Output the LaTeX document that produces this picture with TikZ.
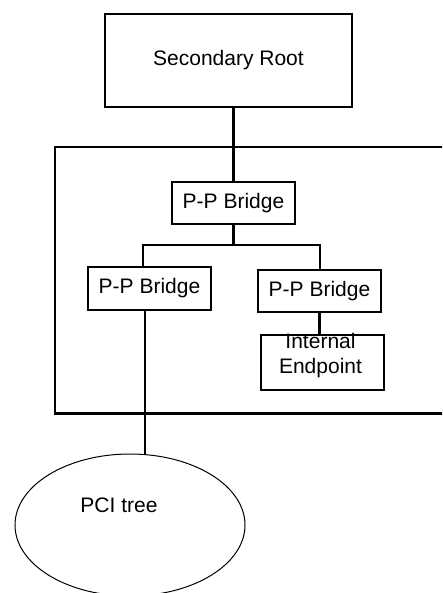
\documentclass[tikz,border=0pt]{standalone}
\usepackage{fontspec}
\setmainfont{Liberation Sans}
\usetikzlibrary{shapes.geometric}

\begin{document}
\begin{tikzpicture}[x=1pt,y=-1pt,line width=2.2pt,
                    font=\fontsize{21}{25}\selectfont]
  \tikzstyle{box}=[draw,rectangle,inner sep=0pt,minimum width=123pt]
  \useasboundingbox (0,0) rectangle (442,593);
  \clip (0,0) rectangle (442,593);

  % switch frame, open to the right
  \draw (460,147) -- (55,147) -- (55,413.5) -- (460,413.5);

  \node[box,minimum width=247pt,minimum height=93pt] (root) at (228.5,60.5) {Secondary Root};
  \node[box,minimum height=42pt] (br0) at (233.5,203)   {P-P Bridge};
  \node[box,minimum height=43pt] (br1) at (149.5,288.5) {P-P Bridge};
  \node[box,minimum height=42pt] (br2) at (319.5,291)   {P-P Bridge};
  \node[box,minimum height=55pt,
        label={[align=center,xshift=-2pt,yshift=7pt]center:Internal\\Endpoint}] (ep) at (322.5,362.5) {};
  \node[draw,ellipse,line width=1pt,minimum width=230pt,minimum height=142pt,
        label={[xshift=-11pt,yshift=20pt]center:PCI tree}] (pci) at (130,525) {};

  \coordinate (busL)   at (143,245);
  \coordinate (busR)   at (320,245);
  \coordinate (pcitop) at (145,454.5);

  \draw (br0.north) -- (br0.north |- root.south);
  \draw (br0.south) -- (br0.south |- busL);
  \draw (br1.north -| busL) -- (busL) -- (busR) -- (br2.north -| busR);
  \draw (br2.south) -- (br2.south |- ep.north);
  \draw (br1.south -| pcitop) -- (pcitop);
\end{tikzpicture}
\end{document}
